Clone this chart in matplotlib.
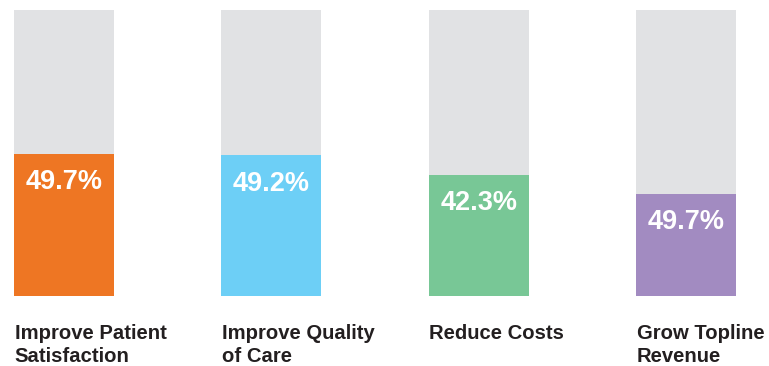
import matplotlib
matplotlib.use('Agg')
from matplotlib import pyplot as plt

categories = ['Improve Patient\nSatisfaction', 'Improve Quality\nof Care', 'Reduce Costs', 'Grow Topline\nRevenue']
heights = [49.7, 49.2, 42.3, 35.7]
value_labels = ['49.7%', '49.2%', '42.3%', '49.7%']
colors = ['#EE7623', '#6DCFF6', '#78C796', '#A28BC1']

plt.rcParams['font.family'] = ['Liberation Sans', 'DejaVu Sans']

fig = plt.figure(figsize=(7.69, 3.66), dpi=100)
ax = fig.add_axes([14 / 769, 70 / 366, 722 / 769, 286 / 366])
w = 0.482
x = list(range(len(categories)))

ax.bar(x, [100] * len(x), width=w, color='#E1E2E4')
ax.bar(x, heights, width=w, color=colors)

for xi, h, lab in zip(x, heights, value_labels):
    ax.annotate(lab, xy=(xi, h), xytext=(0, -11), textcoords='offset points',
                ha='center', va='top', color='white', fontsize=19.5, fontweight='bold')

for xi, cat in zip(x, categories):
    ax.annotate(cat, xy=(xi - w / 2, 0), xycoords=('data', 'axes fraction'),
                xytext=(0.5, -20), textcoords='offset points',
                ha='left', va='top', color='#231F20', fontsize=14.6, fontweight='bold',
                linespacing=1.25)

ax.set_xlim(-w / 2, 3 + w / 2)
ax.set_ylim(0, 100)
ax.axis('off')

fig.savefig('out.png', dpi=100)
